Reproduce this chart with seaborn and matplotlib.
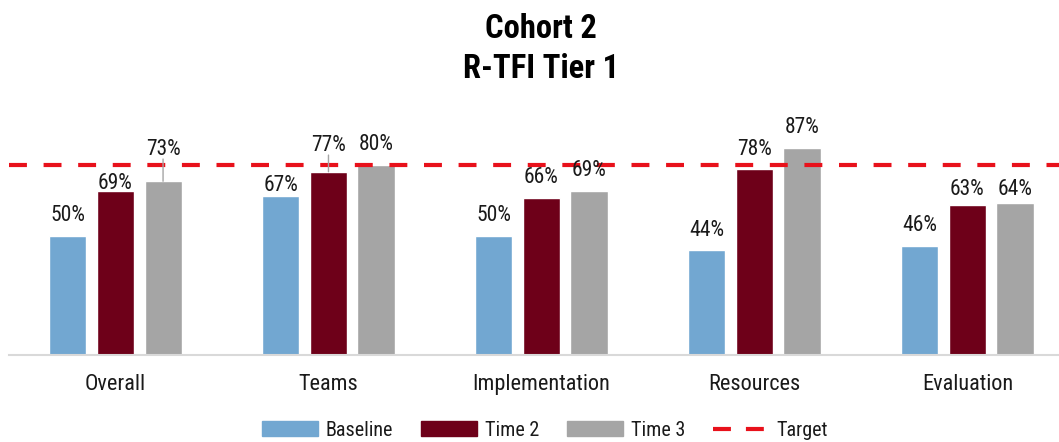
import pandas as pd
import seaborn as sns
import matplotlib.pyplot as plt
from matplotlib import font_manager

# Data
domains = ['Overall', 'Teams', 'Implementation', 'Resources', 'Evaluation']
baseline = [50, 67, 50, 44, 46]
time2 = [69, 77, 66, 78, 63]
time3 = [73, 80, 69, 87, 64]
target = 80
series = ['Baseline', 'Time 2', 'Time 3']
colors = ['#72A7D1', '#6E0019', '#A5A5A5']

df = pd.DataFrame({
    'Domain': domains * 3,
    'Score': baseline + time2 + time3,
    'Time': [s for s in series for _ in domains],
})

sns.set_style('white')

# look for a narrow font, the original uses a condensed face
fonts = font_manager.fontManager.ttflist
fam, stretch = 'DejaVu Sans', 'normal'
for want in ['Roboto Condensed', 'Liberation Sans Narrow', 'Open Sans Condensed']:
    if any(f.name == want for f in fonts):
        fam = want
        break
else:
    for f in fonts:
        if f.name in ('DejaVu Sans', 'Roboto', 'Open Sans', 'Noto Sans') and \
                str(f.stretch) in ('condensed', 'semi-condensed', '75', '87'):
            fam, stretch = f.name, 'condensed'
            break
plt.rcParams['font.family'] = [fam, 'DejaVu Sans']
plt.rcParams['font.stretch'] = stretch

fig = plt.figure(figsize=(10.59, 4.42), dpi=100)
ax = fig.add_axes([9 / 1059, 87 / 442, 1 - 9 / 1059, 238 / 442])

sns.barplot(data=df, x='Domain', y='Score', hue='Time', palette=colors,
            width=0.67, gap=0.22, saturation=1, legend=False, ax=ax)

ax.axhline(target, color='#E8111B', lw=3, dashes=(4.3, 4))
ax.set_xlim(-0.5, 4.43)
ax.set_ylim(0, 100)
ax.set_xlabel('')
ax.set_ylabel('')
ax.set_yticks([])
ax.tick_params(axis='x', length=0, pad=14, labelsize=16, colors='#1A1A1A')
for s in ['top', 'right', 'left']:
    ax.spines[s].set_visible(False)
ax.spines['bottom'].set_color('#D9D9D9')
ax.spines['bottom'].set_linewidth(1.5)

# hand-moved labels in the source chart (points); lifted ones get a leader line
moved = {(1, 0): -9, (2, 0): 8, (0, 1): -7, (1, 1): 4, (1, 4): -3, (2, 4): -5}
for si, cont in enumerate(ax.containers):
    for di, bar in enumerate(cont):
        h = bar.get_height()
        x = bar.get_x() + bar.get_width() / 2
        dy = moved.get((si, di), 0)
        ax.annotate(f'{h:.0f}%', (x, h), xytext=(0, 7 + dy), textcoords='offset points',
                    ha='center', va='bottom', fontsize=15.5, color='#1A1A1A')
        if dy > 0:
            ax.annotate('', (x, h), xytext=(0, dy + 8), textcoords='offset points',
                        arrowprops=dict(arrowstyle='-', color='#A5A5A5', lw=1,
                                        shrinkA=0, shrinkB=0))

fig.text(0.511, 0.934, 'Cohort 2', ha='center', va='center', fontsize=23.5,
         fontweight='bold', color='black')
fig.text(0.511, 0.843, 'R-TFI Tier 1', ha='center', va='center', fontsize=23.5,
         fontweight='bold', color='black')

handles = [plt.Rectangle((0, 0), 1, 1, color=c) for c in colors]
handles.append(plt.Line2D([], [], color='#E8111B', lw=3, dashes=(4.3, 3.6)))
fig.legend(handles, series + ['Target'], loc='lower center', ncol=4, frameon=False,
           bbox_to_anchor=(0.515, -0.036), fontsize=14.5, handlelength=2.75, handleheight=0.75,
           columnspacing=1.4, handletextpad=0.4, labelcolor='#1A1A1A')

fig.savefig('out.png', dpi=100)
